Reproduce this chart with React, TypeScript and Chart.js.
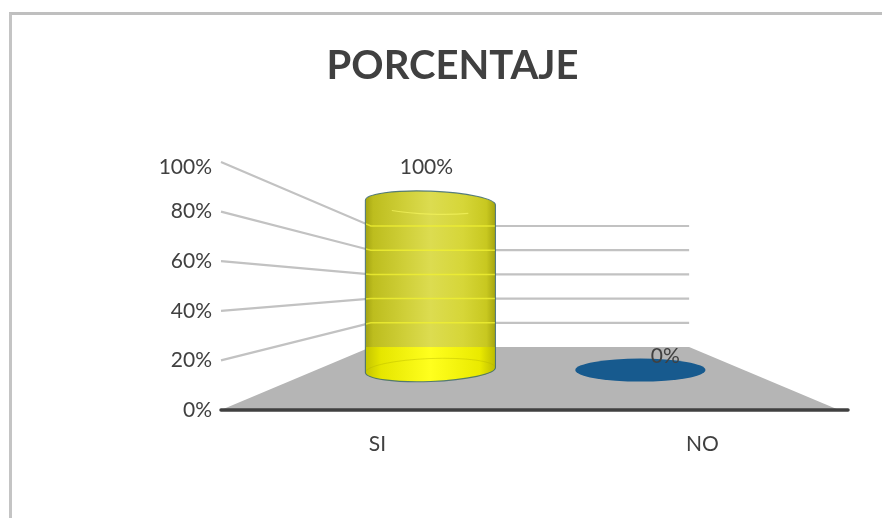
import React, { useEffect, useRef } from "react";
import { Chart, registerables } from "chart.js";

Chart.register(...registerables);

// Chart data
const categories = ["SI", "NO"];
const porcentaje = [1, 0];
const flatColors = ["#e4e41c", "#175a8e"];
const chartTitle = "PORCENTAJE";

const TEXT = "#404040";
const FONT = "Lato";
const GRID_VALUES = [0.2, 0.4, 0.6, 0.8, 1];

// Perspective: points slide toward a vanishing point as they move back in the box.
const VANISH = { x: 530, y: 287 };
const WALL_DEPTH = { x: 0.515, y: 0.488 };
const BAR_VANISH_X = 527;
const BAR_DEPTH = { x: 0.646, y: 0.675 };
const ELLIPSE_RY = 11.5;
const ELLIPSE_TILT = 0.038;

const toWall = (x: number, y: number) => ({
  x: VANISH.x + (x - VANISH.x) * WALL_DEPTH.x,
  y: VANISH.y + (y - VANISH.y) * WALL_DEPTH.y,
});
const toBar = (x: number, y: number) => ({
  x: BAR_VANISH_X + (x - BAR_VANISH_X) * BAR_DEPTH.x,
  y: VANISH.y + (y - VANISH.y) * BAR_DEPTH.y,
});

function gridPath(ctx: CanvasRenderingContext2D, chart: any, v: number, frontLeft: number, frontRight: number) {
  const y = chart.scales.y.getPixelForValue(v);
  const a = toWall(frontLeft, y);
  const b = toWall(frontRight, y);
  ctx.beginPath();
  ctx.moveTo(frontLeft, y);
  ctx.lineTo(a.x, a.y);
  ctx.lineTo(b.x, b.y);
}

const frontEdges = (chart: any) => ({
  left: chart.chartArea.left + 6,
  right: chart.chartArea.right - 26,
});

// Floor and walls of the 3D box, built on the value scale.
const boxPlugin = {
  id: "box3d",
  beforeDatasetsDraw(chart: any) {
    const { ctx } = chart;
    const y0 = chart.scales.y.getPixelForValue(0);
    const { left, right } = frontEdges(chart);
    const bl = toWall(left, y0);
    const br = toWall(right, y0);
    ctx.save();
    ctx.fillStyle = "#b5b5b5";
    ctx.beginPath();
    ctx.moveTo(left, y0);
    ctx.lineTo(bl.x, bl.y);
    ctx.lineTo(br.x, br.y);
    ctx.lineTo(right, y0);
    ctx.closePath();
    ctx.fill();
    ctx.strokeStyle = "#c2c2c2";
    ctx.lineWidth = 2.2;
    GRID_VALUES.forEach((v) => {
      gridPath(ctx, chart, v, left, right);
      ctx.stroke();
    });
    ctx.strokeStyle = TEXT;
    ctx.lineWidth = 3.5;
    ctx.lineCap = "round";
    ctx.beginPath();
    ctx.moveTo(left, y0);
    ctx.lineTo(right + 9, y0);
    ctx.stroke();
    ctx.restore();
  },
  afterDatasetsDraw(chart: any) {
    const { ctx } = chart;
    const meta = chart.getDatasetMeta(0);
    const { left, right } = frontEdges(chart);
    const y0 = chart.scales.y.getPixelForValue(0);
    const floorBack = toWall(left, y0).y;
    meta.data.forEach((bar: any, i: number) => {
      const base = toBar(bar.x, bar.base);
      const top = toBar(bar.x, bar.y);
      const rx = (bar.width * BAR_DEPTH.x) / 2;
      const cx = base.x;
      ctx.save();
      if (porcentaje[i] === 0) {
        ctx.fillStyle = flatColors[i];
        ctx.beginPath();
        ctx.ellipse(cx, base.y, rx, ELLIPSE_RY, 0, 0, Math.PI * 2);
        ctx.fill();
      } else {
        const outline = () => {
          ctx.beginPath();
          ctx.ellipse(cx, top.y, rx, ELLIPSE_RY, ELLIPSE_TILT, Math.PI, Math.PI * 2);
          ctx.ellipse(cx, base.y, rx, ELLIPSE_RY, -ELLIPSE_TILT, 0, Math.PI);
          ctx.closePath();
        };
        const shade = (stops: [number, string][]) => {
          const g = ctx.createLinearGradient(cx - rx, 0, cx + rx, 0);
          stops.forEach(([p, c]) => g.addColorStop(p, c));
          return g;
        };
        ctx.save();
        outline();
        ctx.clip();
        ctx.fillStyle = shade([
          [0, "#a3a312"],
          [0.06, "#bdbd1e"],
          [0.3, "#cfcf38"],
          [0.5, "#dcdc50"],
          [0.75, "#d6d638"],
          [0.93, "#c8c820"],
          [1, "#a5a510"],
        ]);
        ctx.fillRect(cx - rx, top.y - ELLIPSE_RY - 4, rx * 2, base.y - top.y + ELLIPSE_RY * 2 + 8);
        // Floor seen through the translucent cylinder
        ctx.fillStyle = shade([
          [0, "#c4c400"],
          [0.12, "#e6e600"],
          [0.5, "#ffff1e"],
          [0.88, "#eaea00"],
          [1, "#bcbc00"],
        ]);
        ctx.fillRect(cx - rx, floorBack, rx * 2, base.y + ELLIPSE_RY + 4 - floorBack);
        ctx.strokeStyle = "rgba(240,240,50,0.8)";
        ctx.lineWidth = 1.5;
        GRID_VALUES.forEach((v) => {
          gridPath(ctx, chart, v, left, right);
          ctx.stroke();
        });
        // Far rim of the base
        ctx.strokeStyle = "rgba(180,180,0,0.4)";
        ctx.lineWidth = 1;
        ctx.beginPath();
        ctx.ellipse(cx, base.y, rx, ELLIPSE_RY, -ELLIPSE_TILT, Math.PI, Math.PI * 2);
        ctx.stroke();
        // Near rim of the top
        ctx.strokeStyle = "rgba(240,240,90,0.8)";
        ctx.lineWidth = 1.2;
        ctx.beginPath();
        ctx.ellipse(cx, top.y, rx, ELLIPSE_RY, ELLIPSE_TILT, Math.PI * 0.3, Math.PI * 0.7);
        ctx.stroke();
        ctx.restore();
        ctx.strokeStyle = "rgba(60,105,115,0.85)";
        ctx.lineWidth = 1.1;
        outline();
        ctx.stroke();
      }
      ctx.fillStyle = TEXT;
      ctx.font = `21px ${FONT}`;
      ctx.textAlign = "center";
      ctx.textBaseline = "middle";
      const label = `${Math.round(porcentaje[i] * 100)}%`;
      if (porcentaje[i] === 0) ctx.fillText(label, cx + 25, base.y - 14);
      else ctx.fillText(label, cx - 4, top.y - 35);
      ctx.restore();
    });
  },
};

export default function App() {
  const ref = useRef<HTMLCanvasElement>(null);
  useEffect(() => {
    const chart = new Chart(ref.current!, {
      type: "bar",
      data: {
        labels: categories,
        datasets: [
          {
            label: chartTitle,
            data: porcentaje,
            backgroundColor: "rgba(0,0,0,0)",
            borderWidth: 0,
            barPercentage: 0.62,
            categoryPercentage: 1,
          },
        ],
      },
      options: {
        responsive: false,
        animation: false,
        layout: { padding: { left: 40, right: 17, top: 0, bottom: 60 } },
        plugins: {
          legend: { display: false },
          tooltip: { enabled: false },
          title: {
            display: true,
            text: chartTitle,
            color: TEXT,
            font: { family: FONT, size: 40, weight: "bold" },
            padding: { top: 42, bottom: 72 },
          },
        },
        scales: {
          x: {
            grid: { display: false, drawTicks: false },
            border: { display: false },
            ticks: { color: TEXT, font: { family: FONT, size: 21 }, padding: 22, maxRotation: 0 },
            afterFit: (s: any) => {
              s.height = 48;
            },
          },
          y: {
            min: 0,
            max: 1,
            grid: { display: false, drawTicks: false },
            border: { display: false },
            ticks: {
              color: TEXT,
              font: { family: FONT, size: 21 },
              padding: 3,
              callback: (v: any) => `${Math.round(Number(v) * 5) * 20}%`,
            },
            // The topmost label sits a little inside the plot area.
            afterBuildTicks: (s: any) => {
              s.ticks = [0, 0.2, 0.4, 0.6, 0.8, 0.98].map((value) => ({ value }));
            },
            afterFit: (s: any) => {
              s.width = 175;
            },
          },
        },
      },
      plugins: [boxPlugin],
    } as any);
    return () => chart.destroy();
  }, []);
  return (
    <div style={{ position: "absolute", left: 0, top: 0, width: 882, height: 518, overflow: "hidden", background: "#fff" }}>
      <div
        style={{
          position: "absolute",
          left: 9,
          top: 12,
          right: 0,
          bottom: 0,
          borderTop: "3px solid #bfbfbf",
          borderLeft: "3px solid #c4c4c4",
        }}
      />
      <canvas ref={ref} width={882} height={518} style={{ position: "absolute", left: 0, top: 0, display: "block" }} />
    </div>
  );
}
